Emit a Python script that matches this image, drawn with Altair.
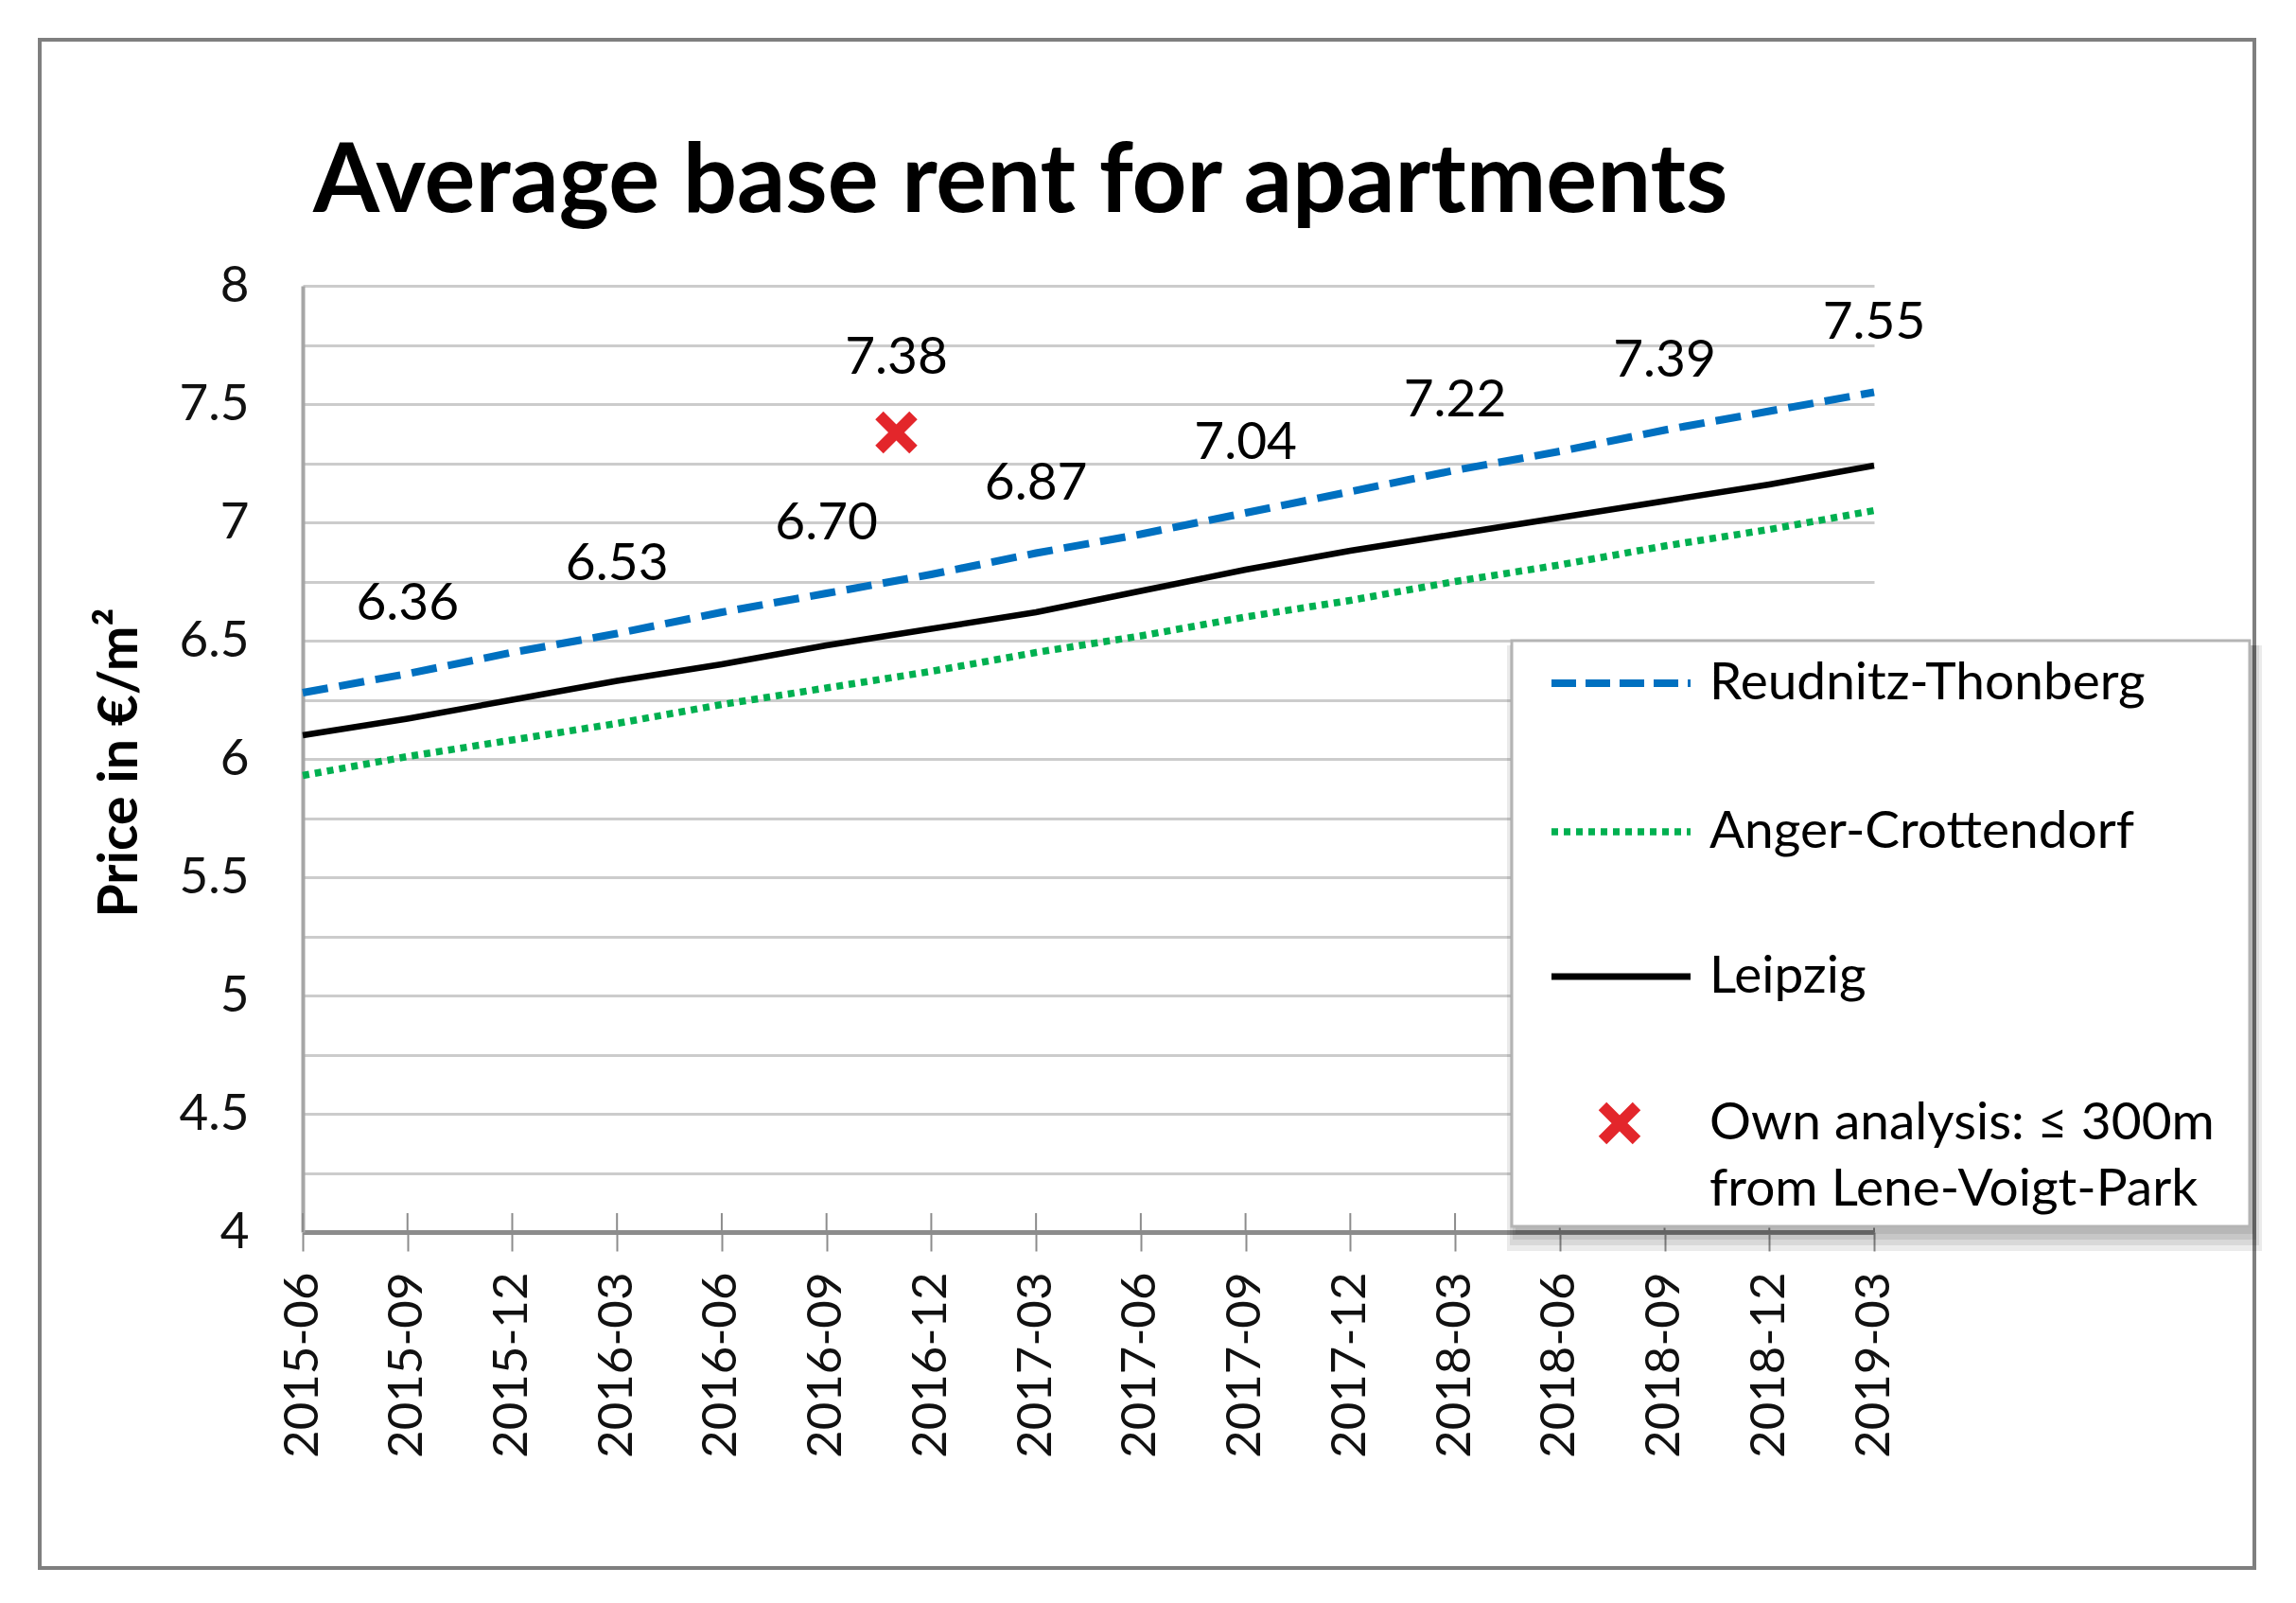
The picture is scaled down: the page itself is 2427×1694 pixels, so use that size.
import altair as alt
import pandas as pd

# ---------------- data ----------------
quarters = ["2015-06", "2015-09", "2015-12", "2016-03", "2016-06", "2016-09",
            "2016-12", "2017-03", "2017-06", "2017-09", "2017-12", "2018-03",
            "2018-06", "2018-09", "2018-12", "2019-03"]
reudnitz = [6.28, 6.36, 6.45, 6.53, 6.62, 6.70, 6.78, 6.87,
            6.95, 7.04, 7.13, 7.22, 7.30, 7.39, 7.47, 7.55]
anger = [5.93, 6.01, 6.08, 6.15, 6.23, 6.30, 6.37, 6.45,
         6.52, 6.60, 6.67, 6.75, 6.82, 6.90, 6.97, 7.05]
leipzig = [6.10, 6.17, 6.25, 6.33, 6.40, 6.48, 6.55, 6.62,
           6.71, 6.80, 6.88, 6.95, 7.02, 7.09, 7.16, 7.24]
own_month = "2016-11"
own_value = 7.38

series_names = ["Reudnitz-Thonberg", "Anger-Crottendorf", "Leipzig"]
own_label = ["Own analysis: \u2264 300m", "from Lene-Voigt-Park"]
title_text = "Average base rent for apartments"
y_title = "Price in \u20ac/m\u00b2"


def month_index(s):
    y, m = map(int, s.split("-"))
    return (y - 2015) * 12 + (m - 6)


months = [month_index(q) for q in quarters]
df_r = pd.DataFrame({"month": months, "value": reudnitz})
df_a = pd.DataFrame({"month": months, "value": anger})
df_l = pd.DataFrame({"month": months, "value": leipzig})
df_lab = pd.DataFrame({
    "month": months[1::2],
    "value": reudnitz[1::2],
    "text": [f"{v:.2f}" for v in reudnitz[1::2]],
})
df_own = pd.DataFrame({"month": [month_index(own_month)], "value": [own_value],
                       "text": [f"{own_value:.2f}"]})
df_ticks = pd.DataFrame({"month": months})
one = pd.DataFrame({"k": [0]})

FONT = "Lato"
BLUE = "#0070C0"
GREEN = "#00B050"
RED = "#E3262B"

label_expr = "[" + ",".join(f"'{q}'" for q in quarters) + "][round(datum.value/3)]"

xscale = alt.Scale(domain=[0, months[-1]], nice=False, zero=False)
yscale = alt.Scale(domain=[4, 8], nice=False, zero=False)

xenc = alt.X("month:Q", scale=xscale,
             axis=alt.Axis(values=months, labelExpr=label_expr, labelAngle=270,
                           grid=False, tickSize=20, tickColor="#8c8c8c", tickWidth=2,
                           domainColor="#8c8c8c", domainWidth=5,
                           labelFont=FONT, labelFontSize=51, labelColor="#111",
                           labelLimit=0, labelOverlap=False,
                           labelPadding=22, title=None))
yenc = alt.Y("value:Q", scale=yscale,
             axis=alt.Axis(values=[4 + 0.25 * k for k in range(17)],
                           labelExpr="datum.value % 0.5 == 0 ? format(datum.value, '~g') : ''",
                           grid=True, gridColor="#cccccc", gridWidth=3,
                           domainColor="#a6a6a6", domainWidth=4,
                           ticks=False, tickSize=0, labelOverlap=False,
                           labelFont=FONT, labelFontSize=53, labelColor="#111",
                           labelPadding=57, title=None))

# frame
frame = alt.Chart(one).mark_rect(fillOpacity=0, stroke="#7f7f7f", strokeWidth=4).encode(
    x=alt.value(-278), x2=alt.value(2063), y=alt.value(-260), y2=alt.value(1355))

title = alt.Chart(one).mark_text(font=FONT, fontWeight="bold", fontSize=101, align="left",
                                 baseline="alphabetic", color="#000").encode(
    x=alt.value(11), y=alt.value(-78), text=alt.value(title_text))

ytitle = alt.Chart(one).mark_text(font=FONT, fontWeight="bold", fontSize=57, align="center",
                                  baseline="middle", angle=270, color="#000").encode(
    x=alt.value(-192), y=alt.value(504), text=alt.value(y_title))

inner_ticks = alt.Chart(df_ticks).mark_rule(color="#8c8c8c", strokeWidth=2).encode(
    x=xenc, y=alt.datum(4), y2=alt.datum(4.08))

line_l = alt.Chart(df_l).mark_line(color="#000", strokeWidth=6.5).encode(x=xenc, y=yenc)
line_a = alt.Chart(df_a).mark_line(color=GREEN, strokeWidth=7.5, strokeDash=[7, 6]).encode(x=xenc, y=yenc)
line_r = alt.Chart(df_r).mark_line(color=BLUE, strokeWidth=8, strokeDash=[27, 12]).encode(x=xenc, y=yenc)

labels = alt.Chart(df_lab).mark_text(font=FONT, fontSize=55, dy=-57, baseline="alphabetic",
                                     align="center", color="#000").encode(
    x=xenc, y=yenc, text="text:N")

xshape = "M-1,-1L1,1M1,-1L-1,1"
own_pt = alt.Chart(df_own).mark_point(shape=xshape, filled=False, stroke=RED, strokeWidth=12,
                                      size=1296, opacity=1).encode(x=xenc, y=yenc)
own_txt = alt.Chart(df_own).mark_text(font=FONT, fontSize=55, dy=-62, baseline="alphabetic",
                                      align="center", color="#000").encode(
    x=xenc, y=yenc, text="text:N")

# legend (decoration): soft shadow + box
shadows = [
    alt.Chart(one).mark_rect(fill="#000", opacity=0.08).encode(
        x=alt.value(1282 - d), x2=alt.value(2062 + d), y=alt.value(380), y2=alt.value(1002 + 2 * d))
    for d in (0, 3, 6, 9)
]
lbox = alt.Chart(one).mark_rect(fill="#fff", stroke="#b4b4b4", strokeWidth=3).encode(
    x=alt.value(1278), x2=alt.value(2058), y=alt.value(375), y2=alt.value(994))

leg_r = alt.Chart(one).mark_rule(color=BLUE, strokeWidth=8, strokeDash=[26, 10]).encode(
    x=alt.value(1320), x2=alt.value(1467), y=alt.value(420))
leg_a = alt.Chart(one).mark_rule(color=GREEN, strokeWidth=7.5, strokeDash=[7, 6]).encode(
    x=alt.value(1320), x2=alt.value(1467), y=alt.value(577))
leg_l = alt.Chart(one).mark_rule(color="#000", strokeWidth=7).encode(
    x=alt.value(1320), x2=alt.value(1467), y=alt.value(730))
leg_x = alt.Chart(one).mark_point(shape=xshape, filled=False, stroke=RED, strokeWidth=12,
                                  size=1296, opacity=1).encode(x=alt.value(1392), y=alt.value(885))


def leg_text(txt, y):
    return alt.Chart(one).mark_text(font=FONT, fontSize=55, align="left", baseline="middle",
                                    color="#000").encode(
        x=alt.value(1487), y=alt.value(y), text=alt.value(txt))


legend_texts = [leg_text(series_names[0], 420), leg_text(series_names[1], 577),
                leg_text(series_names[2], 730), leg_text(own_label[0], 885),
                leg_text(own_label[1], 955)]

chart = alt.layer(
    frame, title, ytitle, inner_ticks, line_l, line_a, line_r, labels, own_pt, own_txt,
    *shadows, lbox, leg_r, leg_a, leg_l, leg_x, *legend_texts
).properties(
    width=1661, height=1000,
    autosize=alt.AutoSizeParams(type="none"),
    padding={"left": 312, "top": 294, "right": 420, "bottom": 370},
    background="#ffffff",
).configure_view(strokeWidth=0)

chart.save("out.html", embed_options={"renderer": "svg", "actions": False})
